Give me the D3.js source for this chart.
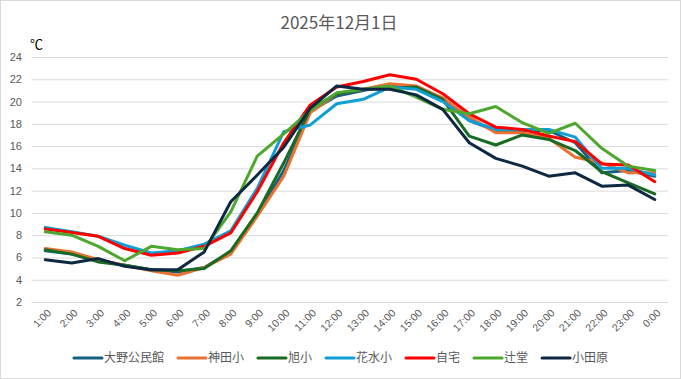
<!DOCTYPE html>
<html><head><meta charset="utf-8">
<script src="https://cdn.jsdelivr.net/npm/d3@7"></script>
<style>
html,body{margin:0;padding:0;background:#fff;}
svg{display:block;}
</style></head>
<body>
<script>
const title = "2025年12月1日";
const unitLabel = "℃";
const hours = ["1:00","2:00","3:00","4:00","5:00","6:00","7:00","8:00","9:00","10:00","11:00","12:00","13:00","14:00","15:00","16:00","17:00","18:00","19:00","20:00","21:00","22:00","23:00","0:00"];
const yTicks = [2,4,6,8,10,12,14,16,18,20,22,24];
const seriesNames = ["大野公民館","神田小","旭小","花水小","自宅","辻堂","小田原"];
const seriesColors = ["#156082","#E97132","#196B24","#0F9ED5","#FF0000","#4EA72E","#0E2841"];
const oonoKominkan = [6.6,6.3,5.7,5.3,4.9,4.7,5.1,6.5,9.8,13.8,19.1,20.5,21.0,21.5,21.2,20.3,18.3,17.4,17.4,17.4,16.3,13.6,13.8,13.3];
const kandaSho = [6.8,6.5,5.8,5.3,4.8,4.4,5.1,6.3,9.7,13.3,19.0,20.7,21.1,21.6,21.4,20.3,18.6,17.2,17.2,16.7,15.0,14.5,13.6,13.6];
const asahiSho = [6.7,6.3,5.6,5.3,4.9,4.8,5.0,6.6,10.0,14.5,19.3,20.7,21.1,21.2,21.3,20.2,16.9,16.1,17.0,16.6,15.6,13.7,12.7,11.7];
const hanamizuSho = [8.7,8.3,7.9,7.1,6.4,6.6,7.2,8.4,12.2,17.3,17.9,19.8,20.2,21.3,21.1,20.0,18.3,17.5,17.5,17.5,16.8,14.0,14.0,13.4];
const jitaku = [8.55,8.25,7.9,6.8,6.2,6.4,7.0,8.2,11.9,16.3,19.7,21.3,21.8,22.4,22.0,20.7,18.9,17.7,17.5,16.9,16.4,14.4,14.3,12.8];
const tsujido = [8.3,8.0,7.0,5.7,7.0,6.7,6.8,10.1,15.1,17.1,19.2,20.8,21.1,21.4,20.4,19.3,18.9,19.55,18.1,17.15,18.05,15.8,14.2,13.8];
const odawara = [5.8,5.5,5.9,5.2,4.9,4.9,6.5,11.0,13.4,15.9,19.4,21.4,21.1,21.1,20.6,19.3,16.3,14.9,14.2,13.3,13.6,12.4,12.5,11.2];
const seriesValues = [oonoKominkan,kandaSho,asahiSho,hanamizuSho,jitaku,tsujido,odawara];

const W = 681, H = 379;
const svg = d3.select("body").append("svg").attr("width", W).attr("height", H);
svg.append("rect").attr("x",0.5).attr("y",0.5).attr("width",W-1).attr("height",H-1)
  .attr("fill","#fff").attr("stroke","#d9d9d9");

const x = d3.scalePoint().domain(hours).range([32, 668]).padding(0.5);
const y = d3.scaleLinear().domain([2,24]).range([302, 57]);

const txt = "#595959";
const font = "'Liberation Sans', Arial, sans-serif";
const jfont = "'Noto Sans CJK JP', sans-serif";

svg.append("text").attr("x", 339).attr("y", 29).attr("text-anchor","middle")
  .attr("font-family", jfont).attr("font-size", 17).attr("fill", txt).text(title);
svg.append("text").attr("x", 30).attr("y", 49)
  .attr("font-family", jfont).attr("font-size", 13).attr("fill", "#000").text(unitLabel);

// grid
const yAxis = d3.axisLeft(y).tickValues(yTicks).tickSize(-(668-32)).tickPadding(10);
const gy = svg.append("g").attr("transform","translate(32,0)").call(yAxis);
gy.select(".domain").remove();
gy.selectAll(".tick line").attr("stroke","#d9d9d9").attr("stroke-width",1);
gy.selectAll(".tick text").attr("font-family", font).attr("font-size", 11).attr("fill", txt);

// x labels
const gx = svg.append("g");
gx.selectAll("text").data(hours).join("text")
  .attr("transform", d => `translate(${x(d)+4},${311}) rotate(-45)`)
  .attr("text-anchor","end").attr("dy","0.35em")
  .attr("font-family", font).attr("font-size", 10.5).attr("fill", txt).text(d => d);

const line = d3.line().x((d,i) => x(hours[i])).y(d => y(d));
svg.append("g").selectAll("path").data(seriesValues).join("path")
  .attr("d", d => line(d)).attr("fill","none")
  .attr("stroke", (d,i) => seriesColors[i]).attr("stroke-width", 3)
  .attr("stroke-linejoin","round").attr("stroke-linecap","round");

// legend
const lg = svg.append("g");
const items = lg.selectAll("g").data(seriesNames).join("g");
items.append("line").attr("x1",0).attr("x2",28).attr("y1",0).attr("y2",0)
  .attr("stroke",(d,i)=>seriesColors[i]).attr("stroke-width",3).attr("stroke-linecap","round");
items.append("text").attr("x",30).attr("dy","0.35em")
  .attr("font-family", jfont).attr("font-size", 12).attr("fill", txt).text(d=>d);
const widths = [];
items.each(function(){ widths.push(30 + this.querySelector("text").getComputedTextLength()); });
const gap = 14;
const total = d3.sum(widths) + gap*(widths.length-1);
let cx = 341 - total/2;
items.attr("transform", (d,i) => { const t = `translate(${cx},358)`; cx += widths[i] + gap; return t; });
</script>
</body></html>
